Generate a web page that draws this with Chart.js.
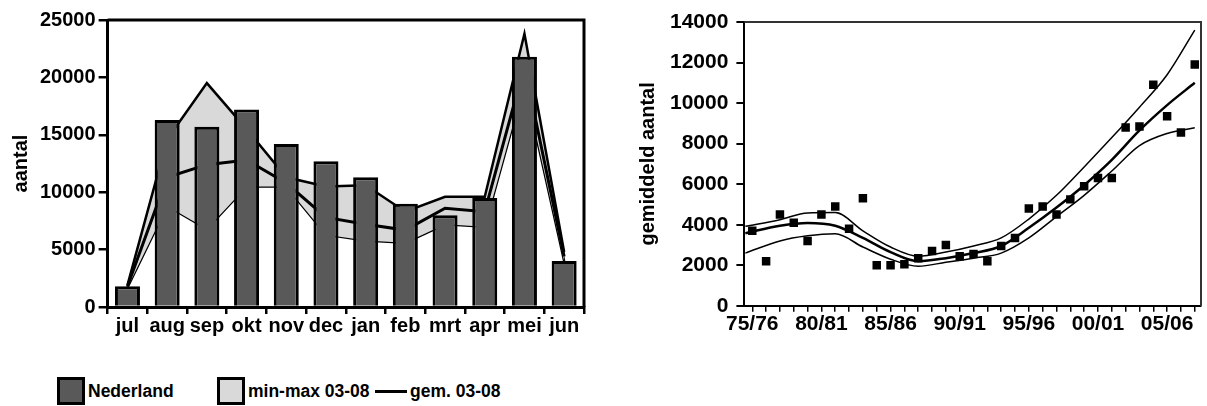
<!DOCTYPE html>
<html>
<head>
<meta charset="utf-8">
<script src="https://cdn.jsdelivr.net/npm/chart.js@4.4.1/dist/chart.umd.min.js"></script>
<style>
  html, body { margin: 0; padding: 0; background: #fff; }
  body { width: 1207px; height: 406px; position: relative; overflow: hidden; font-family: "Liberation Sans", Arial, sans-serif; }
  #left { position: absolute; left: 0; top: 0; width: 600px; height: 345px; }
  #right { position: absolute; left: 600px; top: 0; width: 607px; height: 345px; }
  .swatch { position: absolute; top: 377px; width: 28px; height: 28px; box-sizing: border-box; border: 3px solid #000; }
  .legend-text { position: absolute; top: 377px; height: 28px; line-height: 29px; font-size: 17.5px; font-weight: bold; color: #000; white-space: nowrap; }
  .dash { position: absolute; top: 390px; left: 375px; width: 32px; height: 3px; background: #000; }
</style>
</head>
<body>
<div id="left"><canvas id="seasonChart"></canvas></div>
<div id="right"><canvas id="trendChart"></canvas></div>

<div class="swatch" style="left:57px; background:#595959;"></div>
<div class="legend-text" style="left:88px;">Nederland</div>
<div class="swatch" style="left:217px; background:#d9d9d9;"></div>
<div class="legend-text" style="left:248px;">min-max 03-08</div>
<div class="dash"></div>
<div class="legend-text" style="left:410px;">gem. 03-08</div>

<script>
// --- left panel: monthly numbers ---
const months = ['jul', 'aug', 'sep', 'okt', 'nov', 'dec', 'jan', 'feb', 'mrt', 'apr', 'mei', 'jun'];
const nederland = [1800, 16300, 15700, 17200, 14200, 12700, 11300, 9000, 8000, 9500, 21800, 4000];
const maxVals  = [1900, 14600, 19500, 15500, 11300, 10500, 10600, 8300, 9600, 9600, 23800, 4800];
const meanVals = [1800, 11300, 12400, 12800, 10800, 7800, 7200, 6700, 8600, 8300, 21000, 4400];
const minVals  = [1700, 8800, 6800, 10500, 10500, 6300, 5800, 5600, 7200, 7000, 19500, 4000];

// --- right panel: seasonal averages 75/76 .. 07/08 ---
const seasons = [1975, 1976, 1977, 1978, 1979, 1980, 1981, 1982, 1983, 1984, 1985, 1986, 1987, 1988, 1989,
  1990, 1991, 1992, 1993, 1994, 1995, 1996, 1997, 1998, 1999, 2000, 2001, 2002, 2003, 2004, 2005, 2006, 2007];
const observed = [3700, 2200, 4500, 4100, 3200, 4500, 4900, 3800, 5300, 2000, 2000, 2050, 2350, 2700, 3000,
  2450, 2550, 2200, 2950, 3350, 4800, 4900, 4500, 5250, 5900, 6300, 6300, 8800, 8850, 10900, 9350, 8550, 11900];

const curveYears = [1974.5, 1977, 1979, 1981, 1983, 1985, 1987, 1989, 1991, 1993, 1995, 1997, 1999, 2001, 2003, 2005, 2007];
const upper = [3920, 4250, 4580, 4600, 3700, 2900, 2450, 2650, 2950, 3350, 4280, 5450, 6850, 8300, 9800, 11400, 13600];
const trend = [3580, 3950, 4090, 3950, 3350, 2650, 2200, 2350, 2600, 2950, 3850, 4850, 5950, 7200, 8650, 9900, 11000];
const lower = [2600, 3200, 3450, 3550, 2900, 2300, 1950, 2150, 2350, 2600, 3350, 4400, 5450, 6650, 7900, 8500, 8780];

const labelYears = [1975, 1980, 1985, 1990, 1995, 2000, 2005];
const labelTexts = ['75/76', '80/81', '85/86', '90/91', '95/96', '00/01', '05/06'];

Chart.defaults.font.family = '"Liberation Sans", Arial, sans-serif';
Chart.defaults.color = '#000';
Chart.defaults.animation = false;

// top + right border of the plot box
const framePlugin = {
  id: 'frame',
  afterDatasetsDraw(chart, args, opts) {
    const { ctx, chartArea: a } = chart;
    ctx.save();
    ctx.strokeStyle = opts.color || '#000';
    ctx.lineWidth = opts.width || 2;
    ctx.beginPath();
    ctx.moveTo(a.left, a.top);
    ctx.lineTo(a.right, a.top);
    ctx.lineTo(a.right, a.bottom);
    ctx.stroke();
    ctx.restore();
  }
};

const bold = size => ({ size, weight: 'bold' });

// order: higher numbers are drawn first -> band, then mean line, bars on top
new Chart(document.getElementById('seasonChart'), {
  type: 'bar',
  data: {
    labels: months,
    datasets: [
      { type: 'bar', label: 'Nederland', data: nederland, backgroundColor: '#595959', borderColor: '#000',
        borderWidth: 3, barPercentage: 0.63, categoryPercentage: 1, order: 0 },
      { type: 'line', label: 'max 03-08', data: maxVals, borderColor: '#000', borderWidth: 2.5, pointRadius: 0,
        tension: 0, fill: '+2', backgroundColor: '#d9d9d9', order: 2 },
      { type: 'line', label: 'gem. 03-08', data: meanVals, borderColor: '#000', borderWidth: 3, pointRadius: 0,
        tension: 0, fill: false, order: 1 },
      { type: 'line', label: 'min 03-08', data: minVals, borderColor: '#000', borderWidth: 2.5, pointRadius: 0,
        tension: 0, fill: false, order: 2 }
    ]
  },
  options: {
    responsive: true, maintainAspectRatio: false,
    layout: { padding: { left: 9, top: 20, right: 16, bottom: 7 } },
    plugins: { legend: { display: false }, tooltip: { enabled: false }, frame: { color: '#000', width: 3 } },
    scales: {
      x: {
        grid: { drawOnChartArea: false, offset: true, tickLength: 7, color: '#000', lineWidth: 2.5 },
        border: { display: true, color: '#000', width: 3 },
        ticks: { font: bold(20), padding: 0, maxRotation: 0, autoSkip: false }
      },
      y: {
        min: 0, max: 25000,
        grid: { drawOnChartArea: false, tickLength: 9, color: '#000', lineWidth: 2.5 },
        border: { display: true, color: '#000', width: 3 },
        ticks: { stepSize: 5000, font: bold(20), padding: 3, callback: v => String(v) },
        title: { display: true, text: 'aantal', font: bold(20), padding: { top: 0, bottom: 4 } }
      }
    }
  },
  plugins: [framePlugin]
});

new Chart(document.getElementById('trendChart'), {
  type: 'line',
  data: {
    datasets: [
      { label: 'waarneming', data: seasons.map((s, i) => ({ x: s, y: observed[i] })), showLine: false,
        pointStyle: 'rect', pointRadius: 6, backgroundColor: '#000', borderColor: '#000', borderWidth: 0 },
      { label: 'boven', data: curveYears.map((s, i) => ({ x: s, y: upper[i] })), borderColor: '#000',
        borderWidth: 1.5, pointRadius: 0, cubicInterpolationMode: 'monotone', fill: false },
      { label: 'trend', data: curveYears.map((s, i) => ({ x: s, y: trend[i] })), borderColor: '#000',
        borderWidth: 2.5, pointRadius: 0, cubicInterpolationMode: 'monotone', fill: false },
      { label: 'onder', data: curveYears.map((s, i) => ({ x: s, y: lower[i] })), borderColor: '#000',
        borderWidth: 1.5, pointRadius: 0, cubicInterpolationMode: 'monotone', fill: false }
    ]
  },
  options: {
    responsive: true, maintainAspectRatio: false,
    layout: { padding: { left: 36, top: 22, right: 1, bottom: 8 } },
    plugins: { legend: { display: false }, tooltip: { enabled: false }, frame: { color: '#333', width: 2 } },
    scales: {
      x: {
        type: 'linear', min: 1974.43, max: 2007.45,
        afterBuildTicks: axis => { axis.ticks = seasons.map(v => ({ value: v })); },
        grid: { drawOnChartArea: false, tickLength: 6, color: '#000', lineWidth: 1.5 },
        border: { display: true, color: '#000', width: 2 },
        ticks: {
          font: bold(21), padding: 0, maxRotation: 0, autoSkip: false,
          callback: v => { const k = labelYears.indexOf(v); return k >= 0 ? labelTexts[k] : ''; }
        }
      },
      y: {
        min: 0, max: 14000,
        grid: { drawOnChartArea: false, tickLength: 8, color: '#000', lineWidth: 2 },
        border: { display: true, color: '#000', width: 2 },
        ticks: { stepSize: 2000, font: bold(21), padding: 8, callback: v => String(v) },
        title: { display: true, text: 'gemiddeld aantal', font: bold(20), padding: { top: 0, bottom: 2 } }
      }
    }
  },
  plugins: [framePlugin]
});
</script>
</body>
</html>
